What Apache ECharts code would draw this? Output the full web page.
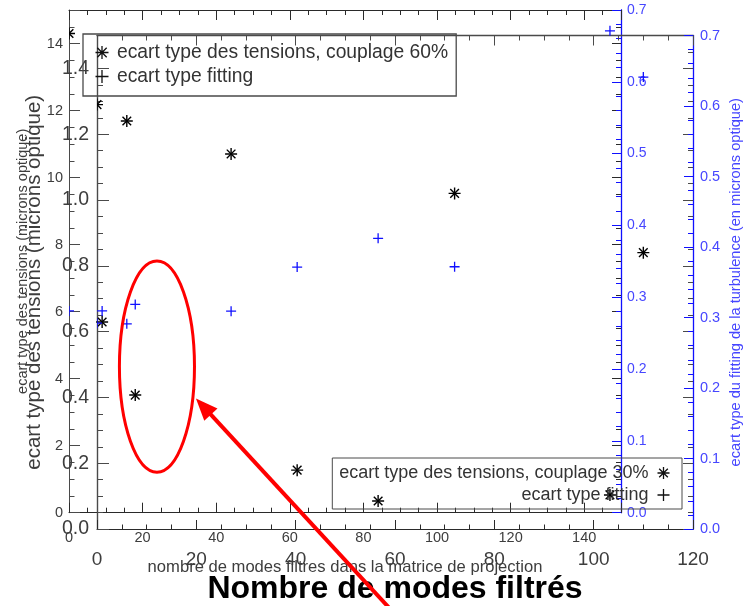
<!DOCTYPE html>
<html>
<head>
<meta charset="utf-8">
<script src="https://cdn.jsdelivr.net/npm/echarts@6/dist/echarts.min.js"></script>
<style>
  html, body { margin: 0; padding: 0; background: #fff; }
  #chart { width: 749px; height: 606px; }
</style>
</head>
<body>
<div id="chart"></div>
<script>
// ---- Data -------------------------------------------------------------
// Plot 1: coupling 60 %
const modes60    = [0, 9, 18, 62, 84, 147];
const tensions60 = [14.3, 5.69, 3.51, 1.27, 0.35, 0.53];
const fitting60  = [0.281, 0.281, 0.290, 0.342, 0.382, 0.671];

// Plot 2: coupling 30 %
const modes30    = [0, 6, 27, 72, 110];
const tensions30 = [1.29, 1.24, 1.14, 1.02, 0.84];
const fitting30  = [0.292, 0.291, 0.309, 0.372, 0.641];

// Tick labels
const ticksX60   = [0, 20, 40, 60, 80, 100, 120, 140];
const ticksY60   = [0, 2, 4, 6, 8, 10, 12, 14];
const ticksFit60 = [0, 0.1, 0.2, 0.3, 0.4, 0.5, 0.6, 0.7];
const ticksX30   = [0, 20, 40, 60, 80, 100, 120];
const ticksY30   = [0, 0.2, 0.4, 0.6, 0.8, 1.0, 1.2, 1.4];
const ticksFit30 = [0, 0.1, 0.2, 0.3, 0.4, 0.5, 0.6, 0.7];

// Highlight annotation (ellipse + arrow), in the data units of plot 1
const ellipseCenter = [23.9, 4.36];
const ellipseRadii  = [10.2, 3.15];
const arrowTip      = [34.5, 3.41];
const arrowTail     = [87.5, -2.9];

// ---- Styling helpers --------------------------------------------------
const FONT = '"Liberation Sans", Arial, Helvetica, sans-serif';
const INK = '#3d3d3d';
const AXIS_DARK = '#2a2a2a';
const AXIS_GREY = '#4a4a4a';
const BLUE = '#1010ff';
const BLUE_TEXT = '#4646ff';

const NAME_T60 = 'ecart type des tensions, couplage 60%';
const NAME_F60 = 'ecart type fitting';
const NAME_T30 = 'ecart type des tensions, couplage 30%';
const NAME_F30 = 'ecart type fitting ';

const STAR_PATH = 'path://M0,5L10,5M5,0L5,10M1.4,1.4L8.6,8.6M8.6,1.4L1.4,8.6';
const PLUS_PATH = 'path://M0,5L10,5M5,0L5,10';

const xAxes = [];
const yAxes = [];

// Major axis (line, long ticks, optional labels and name)
function majorAxis(gridIndex, position, ticks, max, o) {
  const step = +(ticks[1] - ticks[0]).toFixed(6);
  return {
    type: 'value', gridIndex, position,
    min: ticks[0], max, interval: step,
    axisLine: { show: true, onZero: false, lineStyle: { color: o.line, width: o.lineWidth || 1 } },
    axisTick: { show: true, inside: true, length: o.tickLen, lineStyle: { color: o.tick || o.line, width: 1 } },
    minorTick: { show: false },
    splitLine: { show: false },
    axisLabel: o.showLabels ? {
      show: true, margin: o.margin, fontSize: o.fontSize, color: o.labelColor || INK, fontFamily: FONT,
      showMinLabel: true, showMaxLabel: true,
      formatter: function (v) {
        const hit = ticks.find(t => Math.abs(t - v) < 1e-6);
        if (hit === undefined) return '';
        return o.digits ? hit.toFixed(o.digits) : String(hit);
      }
    } : { show: false },
    name: o.name || '',
    nameLocation: 'middle',
    nameGap: o.nameGap || 0,
    nameMoveOverlap: false,
    nameTextStyle: o.nameStyle || {}
  };
}

// Minor tick axis layered on the same side (ticks only)
function minorAxis(gridIndex, position, min, max, step, len, color) {
  return {
    type: 'value', gridIndex, position, min, max, interval: step,
    axisLine: { show: false, onZero: false },
    axisTick: { show: true, inside: true, length: len, lineStyle: { color, width: 1 } },
    minorTick: { show: false },
    splitLine: { show: false },
    axisLabel: { show: false },
    name: ''
  };
}

function push(list, ax) { list.push(ax); return list.length - 1; }

// ---- Plot 1 axes (grid 0) --------------------------------------------
const X60 = push(xAxes, majorAxis(0, 'bottom', ticksX60, 150, {
  line: AXIS_DARK, tickLen: 10, showLabels: true, margin: 18, fontSize: 14.5,
  name: 'nombre de modes filtres dans la matrice de projection', nameGap: 46,
  nameStyle: { fontSize: 16.6, color: INK, fontFamily: FONT }
}));
push(xAxes, minorAxis(0, 'bottom', 0, 150, 5, 5, AXIS_DARK));
push(xAxes, majorAxis(0, 'top', ticksX60, 150, { line: AXIS_DARK, tickLen: 10 }));
push(xAxes, minorAxis(0, 'top', 0, 150, 5, 5, AXIS_DARK));

const Y60 = push(yAxes, majorAxis(0, 'left', ticksY60, 15, {
  line: AXIS_GREY, tickLen: 11, showLabels: true, margin: 6, fontSize: 14.5,
  name: 'ecart type des tensions (microns optique)', nameGap: 39,
  nameStyle: { fontSize: 14.5, color: INK, fontFamily: FONT }
}));
push(yAxes, minorAxis(0, 'left', 0, 15, 0.5, 5.5, AXIS_GREY));
push(yAxes, majorAxis(0, 'right', ticksY60, 15, { line: BLUE, tick: AXIS_DARK, tickLen: 9 }));
push(yAxes, minorAxis(0, 'right', 0, 15, 0.5, 5, AXIS_DARK));
const F60 = push(yAxes, majorAxis(0, 'right', ticksFit60, 0.7, {
  line: BLUE, lineWidth: 1.3, tickLen: 9, showLabels: true, margin: 6, fontSize: 14,
  labelColor: BLUE_TEXT, digits: 1
}));
push(yAxes, minorAxis(0, 'right', 0, 0.7, 0.02, 5, BLUE));

// ---- Plot 2 axes (grid 1) --------------------------------------------
const X30 = push(xAxes, majorAxis(1, 'bottom', ticksX30, 120, {
  line: AXIS_DARK, tickLen: 9, showLabels: true, margin: 21, fontSize: 19,
  name: 'Nombre de modes filtrés', nameGap: 44,
  nameStyle: { fontSize: 32, fontWeight: 'bold', color: '#000', fontFamily: FONT }
}));
push(xAxes, minorAxis(1, 'bottom', 0, 120, 5, 4.5, AXIS_DARK));
push(xAxes, majorAxis(1, 'top', ticksX30, 120, { line: AXIS_GREY, lineWidth: 1.4, tickLen: 10 }));
push(xAxes, minorAxis(1, 'top', 0, 120, 5, 5, AXIS_GREY));

const Y30 = push(yAxes, majorAxis(1, 'left', ticksY30, 1.5, {
  line: AXIS_GREY, lineWidth: 1.4, tickLen: 12, showLabels: true, margin: 8, fontSize: 19.5,
  digits: 1, name: 'ecart type des tensions (microns optique)', nameGap: 52,
  nameStyle: { fontSize: 20.5, color: INK, fontFamily: FONT }
}));
push(yAxes, minorAxis(1, 'left', 0, 1.5, 0.05, 6, AXIS_GREY));
push(yAxes, majorAxis(1, 'right', ticksY30, 1.5, { line: BLUE, tick: AXIS_GREY, tickLen: 10 }));
push(yAxes, minorAxis(1, 'right', 0, 1.5, 0.05, 5, AXIS_GREY));
const F30 = push(yAxes, majorAxis(1, 'right', ticksFit30, 0.7, {
  line: BLUE, lineWidth: 1.3, tickLen: 9, showLabels: true, margin: 7, fontSize: 14.5,
  labelColor: BLUE_TEXT, digits: 1,
  name: 'ecart type du fitting de la turbulence (en microns optique)', nameGap: 35,
  nameStyle: { fontSize: 14.6, color: BLUE_TEXT, fontFamily: FONT }
}));
push(yAxes, minorAxis(1, 'right', 0, 0.7, 0.02, 5, BLUE));

// ---- Marker drawing (asterisk / plus), clipped to the plot box -------
function marker(kind, size, color, width) {
  return function (params, api) {
    const c = api.coord([api.value(0), api.value(1)]);
    const h = size / 2, d = h * 0.72;
    const segs = kind === 'star'
      ? [[-h, 0, h, 0], [0, -h, 0, h], [-d, -d, d, d], [-d, d, d, -d]]
      : [[-h, 0, h, 0], [0, -h, 0, h]];
    return {
      type: 'group',
      children: segs.map(s => ({
        type: 'line',
        shape: { x1: c[0] + s[0], y1: c[1] + s[1], x2: c[0] + s[2], y2: c[1] + s[3] },
        style: { stroke: color, lineWidth: width }
      }))
    };
  };
}

function pairs(xs, ys) { return xs.map((x, i) => [x, ys[i]]); }

function markSeries(name, xi, yi, xs, ys, kind, size, color, width) {
  return {
    type: 'custom', name, coordinateSystem: 'cartesian2d',
    xAxisIndex: xi, yAxisIndex: yi, clip: true, silent: true,
    encode: { x: 0, y: 1 },
    itemStyle: { color },
    renderItem: marker(kind, size, color, width),
    data: pairs(xs, ys)
  };
}

const legendIconStyle = { color: 'none', borderColor: '#111', borderWidth: 1.3 };

const chart = echarts.init(document.getElementById('chart'), null, { renderer: 'canvas' });

chart.setOption({
  backgroundColor: '#ffffff',
  animation: false,
  textStyle: { fontFamily: FONT },
  grid: [
    { left: 69, top: 10, width: 552, height: 502.7, containLabel: false, outerBoundsMode: 'none' },
    { left: 97, top: 35.5, width: 596, height: 493.5, containLabel: false, outerBoundsMode: 'none' }
  ],
  xAxis: xAxes,
  yAxis: yAxes,
  legend: [
    {
      orient: 'vertical', left: 83, top: 34, padding: [9, 8, 10, 10],
      itemWidth: 20, itemHeight: 13, itemGap: 5,
      borderColor: '#4a4a4a', borderWidth: 1.3, selectedMode: false,
      textStyle: { fontSize: 19.3, color: '#333', fontFamily: FONT },
      formatter: n => n.trim(),
      data: [
        { name: NAME_T60, icon: STAR_PATH, itemStyle: legendIconStyle },
        { name: NAME_F60, icon: PLUS_PATH, itemStyle: legendIconStyle }
      ]
    },
    {
      orient: 'vertical', align: 'right', right: 67, top: 458, padding: [6, 10, 5, 7],
      itemWidth: 20, itemHeight: 12, itemGap: 4,
      borderColor: '#4a4a4a', borderWidth: 1, selectedMode: false,
      textStyle: { fontSize: 18, color: '#333', fontFamily: FONT },
      formatter: n => n.trim(),
      data: [
        { name: NAME_T30, icon: STAR_PATH, itemStyle: legendIconStyle },
        { name: NAME_F30, icon: PLUS_PATH, itemStyle: legendIconStyle }
      ]
    }
  ],
  series: [
    markSeries(NAME_T60, X60, Y60, modes60, tensions60, 'star', 12, '#000', 1.4),
    markSeries(NAME_F60, X60, F60, modes60, fitting60, 'plus', 10, BLUE, 1.3),
    markSeries(NAME_T30, X30, Y30, modes30, tensions30, 'star', 12, '#000', 1.4),
    markSeries(NAME_F30, X30, F30, modes30, fitting30, 'plus', 10, BLUE, 1.3)
  ]
});

// ---- Red highlight drawn from plot-1 data units ----------------------
const toPx = p => chart.convertToPixel({ xAxisIndex: X60, yAxisIndex: Y60 }, p);
const ec = toPx(ellipseCenter);
const ee = toPx([ellipseCenter[0] + ellipseRadii[0], ellipseCenter[1] + ellipseRadii[1]]);
const tip = toPx(arrowTip);
const tail = toPx(arrowTail);
const dx = tip[0] - tail[0], dy = tip[1] - tail[1];
const len = Math.hypot(dx, dy);
const ux = dx / len, uy = dy / len;
const headLen = 22, headHalf = 9;
const base = [tip[0] - ux * headLen, tip[1] - uy * headLen];

chart.setOption({
  graphic: [
    {
      type: 'ellipse', z: 100, silent: true,
      shape: { cx: ec[0], cy: ec[1], rx: Math.abs(ee[0] - ec[0]), ry: Math.abs(ee[1] - ec[1]) },
      style: { fill: 'none', stroke: '#ff0000', lineWidth: 3 }
    },
    {
      type: 'line', z: 100, silent: true,
      shape: { x1: tail[0], y1: tail[1], x2: base[0] + ux * 2, y2: base[1] + uy * 2 },
      style: { stroke: '#ff0000', lineWidth: 4 }
    },
    {
      type: 'polygon', z: 100, silent: true,
      shape: { points: [tip, [base[0] - uy * headHalf, base[1] + ux * headHalf], [base[0] + uy * headHalf, base[1] - ux * headHalf]] },
      style: { fill: '#ff0000' }
    }
  ]
});
</script>
</body>
</html>
